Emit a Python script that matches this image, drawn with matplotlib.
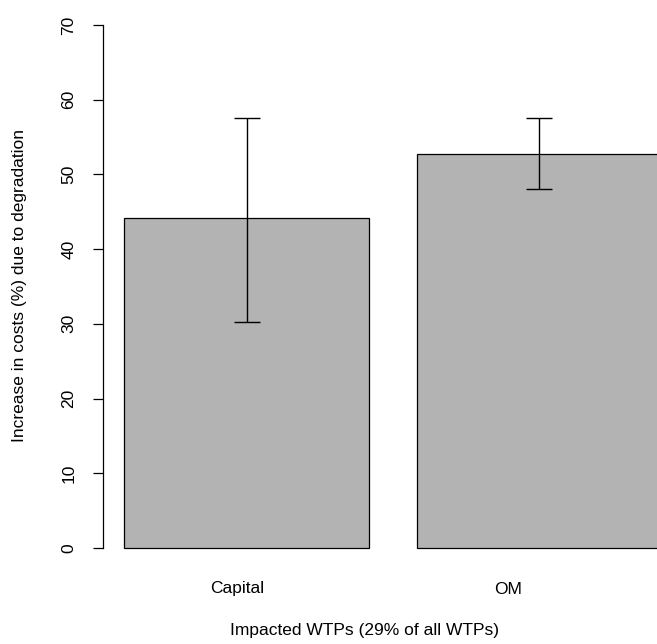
import matplotlib
matplotlib.use("Agg")
import matplotlib.pyplot as plt
import numpy as np

plt.rcParams['font.family'] = ['Liberation Sans', 'DejaVu Sans']

categories = ["Capital", "OM"]
means = [44.2, 52.7]
err_low = [30.2, 48.0]
err_high = [57.6, 57.5]
yticks = [0, 10, 20, 30, 40, 50, 60, 70]
xlabel = "Impacted WTPs (29% of all WTPs)"
ylabel = "Increase in costs (%) due to degradation"

W, H = 657, 644
fig = plt.figure(figsize=(W / 100, H / 100), dpi=100)
ax = fig.add_axes([103 / W, (H - 569) / H, 580 / W, 565 / H])

width = 1.0
space = 0.2
centers = np.array([space + width / 2 + i * (width + space) for i in range(len(categories))])
ax.bar(centers, means, width=width, color='#b3b3b3', edgecolor='black', linewidth=0.9)

m = np.array(means)
yerr = np.vstack([m - np.array(err_low), np.array(err_high) - m])
ax.errorbar(centers, means, yerr=yerr, fmt='none', ecolor='black', elinewidth=1.0,
            capsize=9.3, capthick=1.0)

ax.set_xlim(0.112, 2.488)
ax.set_ylim(-2.8, 72.8)
for s in ['top', 'right', 'bottom']:
    ax.spines[s].set_visible(False)
ax.spines['left'].set_bounds(0, 70)
ax.spines['left'].set_linewidth(0.9)
ax.set_yticks(yticks)
ax.set_yticklabels([str(t) for t in yticks], rotation=90, va='center', fontsize=12.5)
ax.tick_params(axis='y', length=7, width=0.9, pad=12, direction='out')

label_pos = centers - np.array([0.04, 0.13])
ax.set_xticks(label_pos)
ax.set_xticklabels(categories, fontsize=12.5)
ax.tick_params(axis='x', length=0, pad=9)

fig.text(364 / W, 1 - 630 / H, xlabel, ha='center', va='center', fontsize=12.5)
fig.text(20 / W, 1 - 286 / H, ylabel, ha='center', va='center', rotation=90, fontsize=12.5)

fig.savefig("out.png", dpi=100)
